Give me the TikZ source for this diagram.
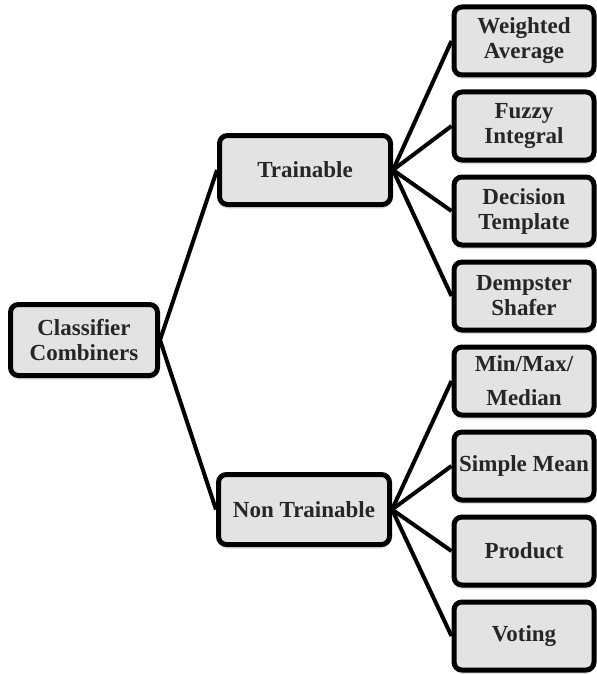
\documentclass[tikz,border=0pt]{standalone}
\usepackage{fontspec}
\setmainfont{Liberation Serif}
\usetikzlibrary{positioning,shadows}

\begin{document}
\begin{tikzpicture}[
  box/.style={draw, line width=2.5pt, rounded corners=4pt, fill=gray!22, align=center,
    text=black!85, inner sep=2pt, font=\fontsize{11.5}{12.5}\selectfont\bfseries,
    drop shadow={shadow xshift=0pt, shadow yshift=-2pt, opacity=0.25}},
  leaf/.style={box, minimum width=70pt, minimum height=34pt},
  link/.style={line width=2pt}
]
\useasboundingbox (0,0) rectangle (298.5pt,-337pt);

\node[box, minimum width=73.5pt, minimum height=35.5pt] (root) at (42pt,-170pt) {Classifier\\Combiners};
\node[box, minimum width=85.5pt, minimum height=34.5pt] (train) at (152.5pt,-85pt) {Trainable};
\node[box, minimum width=85.5pt, minimum height=35pt] (nontrain) at (152pt,-254.75pt) {Non Trainable};

\node[leaf] (wavg) at (262pt,-20.5pt) {Weighted\\Average};
\node[leaf, below=6pt of wavg] (fuzzy) {Fuzzy\\Integral};
\node[leaf, below=6pt of fuzzy] (dtempl) {Decision\\Template};
\node[leaf, below=6pt of dtempl] (dshafer) {Dempster\\Shafer};
\node[leaf, below=6pt of dshafer] (minmax) {Min/Max/\\[4.5pt]Median};
\node[leaf, below=6pt of minmax] (smean) {Simple Mean};
\node[leaf, below=6pt of smean] (prod) {Product};
\node[leaf, below=6pt of prod] (voting) {Voting};

\draw[link] (root.east) -- (train.west);
\draw[link] (root.east) -- (nontrain.west);
\foreach \t in {wavg,fuzzy,dtempl,dshafer}
  \draw[link] (train.east) -- (\t.west);
\foreach \t in {minmax,smean,prod,voting}
  \draw[link] (nontrain.east) -- (\t.west);
\end{tikzpicture}
\end{document}
